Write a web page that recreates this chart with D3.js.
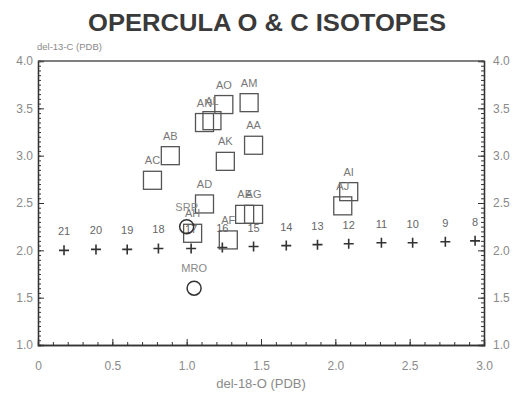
<!DOCTYPE html>
<html>
<head>
<meta charset="utf-8">
<script src="https://cdn.jsdelivr.net/npm/d3@7"></script>
<style>
  body { margin: 0; background: #fff; }
  svg { display: block; font-family: "Liberation Sans", Arial, sans-serif; }
</style>
</head>
<body>
<svg id="canvas" width="520" height="394"></svg>
<script>
// opercula samples (squares)
let sampleNames = ["AM", "AO", "AN", "AL", "AA", "AK", "AB", "AC", "AD", "AE", "AG", "AH", "AF", "AI", "AJ"]
let sampleO =     [1.42, 1.25, 1.12, 1.17, 1.45, 1.26, 0.89, 0.77, 1.12, 1.39, 1.45, 1.04, 1.28, 2.09, 2.05]
let sampleC =     [3.56, 3.54, 3.35, 3.37, 3.11, 2.94, 3.00, 2.74, 2.49, 2.38, 2.38, 2.18, 2.11, 2.62, 2.47]

// reference shells (circles)
let refNames = ["SRP", "MRO"]
let refO = [1.00, 1.05]
let refC = [2.25, 1.60]

// equilibrium temperature line (crosses), deg C
let tempLabels = ["21", "20", "19", "18", "17", "16", "15", "14", "13", "12", "11", "10", "9", "8"]
let tempO = [0.175, 0.39, 0.60, 0.81, 1.03, 1.24, 1.45, 1.67, 1.88, 2.09, 2.31, 2.52, 2.74, 2.94]
let tempC = [2.00, 2.01, 2.01, 2.02, 2.02, 2.03, 2.04, 2.05, 2.06, 2.07, 2.08, 2.08, 2.09, 2.10]

let xTicks = [0, 0.5, 1.0, 1.5, 2.0, 2.5, 3.0]
let yTicks = [1.0, 1.5, 2.0, 2.5, 3.0, 3.5, 4.0]

let canvas = d3.select("#canvas")
let padL = 38, padR = 484, padT = 61, padB = 345

let x = d3.scaleLinear().domain([0, 3]).range([padL, padR])
let y = d3.scaleLinear().domain([1, 4]).range([padB, padT])

let ink = "#333"
let soft = "#8a8a8a"

// title
canvas.append("text")
    .attr("x", 267).attr("y", 31)
    .attr("text-anchor", "middle")
    .attr("font-size", 23.5).attr("font-weight", "bold")
    .attr("textLength", 358).attr("lengthAdjust", "spacingAndGlyphs")
    .attr("fill", "#3a3a3a")
    .text("OPERCULA O & C ISOTOPES")

canvas.append("text")
    .attr("x", 37).attr("y", 50)
    .attr("font-size", 9.5).attr("fill", soft)
    .text("del-13-C (PDB)")

canvas.append("text")
    .attr("x", 261).attr("y", 388)
    .attr("text-anchor", "middle")
    .attr("font-size", 13).attr("fill", soft)
    .text("del-18-O (PDB)")

// axes with inward ticks
let fmtX = d => d === 0 ? "0" : d3.format(".1f")(d)
let fmtY = d3.format(".1f")

let minorX = d3.range(0, 3.0001, 0.1)
let minorY = d3.range(1, 4.0001, 0.05)

canvas.append("g").attr("transform", `translate(0,${padB})`)
    .call(d3.axisBottom(x).tickValues(minorX).tickSize(-3).tickFormat(""))
canvas.append("g").attr("transform", `translate(0,${padB})`)
    .call(d3.axisBottom(x).tickValues(xTicks).tickSize(-6).tickPadding(16).tickFormat(fmtX))

canvas.append("g").attr("transform", `translate(${padL},0)`)
    .call(d3.axisLeft(y).tickValues(minorY).tickSize(-3).tickFormat(""))
canvas.append("g").attr("transform", `translate(${padL},0)`)
    .call(d3.axisLeft(y).tickValues(yTicks).tickSize(-6).tickPadding(5).tickFormat(fmtY))

canvas.append("g").attr("transform", `translate(${padR},0)`)
    .call(d3.axisRight(y).tickValues(minorY).tickSize(-3).tickFormat(""))
canvas.append("g").attr("transform", `translate(${padR},0)`)
    .call(d3.axisRight(y).tickValues(yTicks).tickSize(-6).tickPadding(9).tickFormat(fmtY))

canvas.append("line")
    .attr("x1", padL).attr("x2", padR).attr("y1", padT).attr("y2", padT)
    .attr("stroke", "#555").attr("stroke-width", 1.3)

canvas.selectAll(".domain").attr("stroke", ink).attr("stroke-width", 1.3)
canvas.selectAll(".tick line").attr("stroke", ink).attr("stroke-width", 1)
canvas.selectAll(".tick text").attr("fill", soft).attr("font-size", 12)
    .attr("font-family", "Liberation Sans, Arial, sans-serif")

// temperature crosses
let temps = tempLabels.map((t, i) => ({ name: t, o: tempO[i], c: tempC[i] }))
let cross = canvas.selectAll(".cross").data(temps).enter().append("g")
    .attr("transform", d => `translate(${x(d.o)},${y(d.c)})`)
cross.append("path")
    .attr("d", "M-5,0H5M0,-5V5")
    .attr("stroke", ink).attr("stroke-width", 1.6)
cross.append("text")
    .attr("y", -15).attr("text-anchor", "middle")
    .attr("font-size", 11).attr("fill", "#666")
    .text(d => d.name)

// samples
let samples = sampleNames.map((n, i) => ({ name: n, o: sampleO[i], c: sampleC[i] }))
let sq = canvas.selectAll(".sample").data(samples).enter().append("g")
    .attr("transform", d => `translate(${x(d.o)},${y(d.c)})`)
sq.append("rect")
    .attr("x", -9).attr("y", -9).attr("width", 18).attr("height", 18)
    .attr("fill", "none").attr("stroke", "#555").attr("stroke-width", 1.3)
sq.append("text")
    .attr("y", -16).attr("text-anchor", "middle")
    .attr("font-size", 11).attr("fill", "#777")
    .text(d => d.name)

// reference circles
let refs = refNames.map((n, i) => ({ name: n, o: refO[i], c: refC[i] }))
let rc = canvas.selectAll(".ref").data(refs).enter().append("g")
    .attr("transform", d => `translate(${x(d.o)},${y(d.c)})`)
rc.append("circle")
    .attr("r", 7)
    .attr("fill", "none").attr("stroke", ink).attr("stroke-width", 1.5)
rc.append("text")
    .attr("y", -16).attr("text-anchor", "middle")
    .attr("font-size", 11).attr("fill", "#888")
    .text(d => d.name)
</script>
</body>
</html>
